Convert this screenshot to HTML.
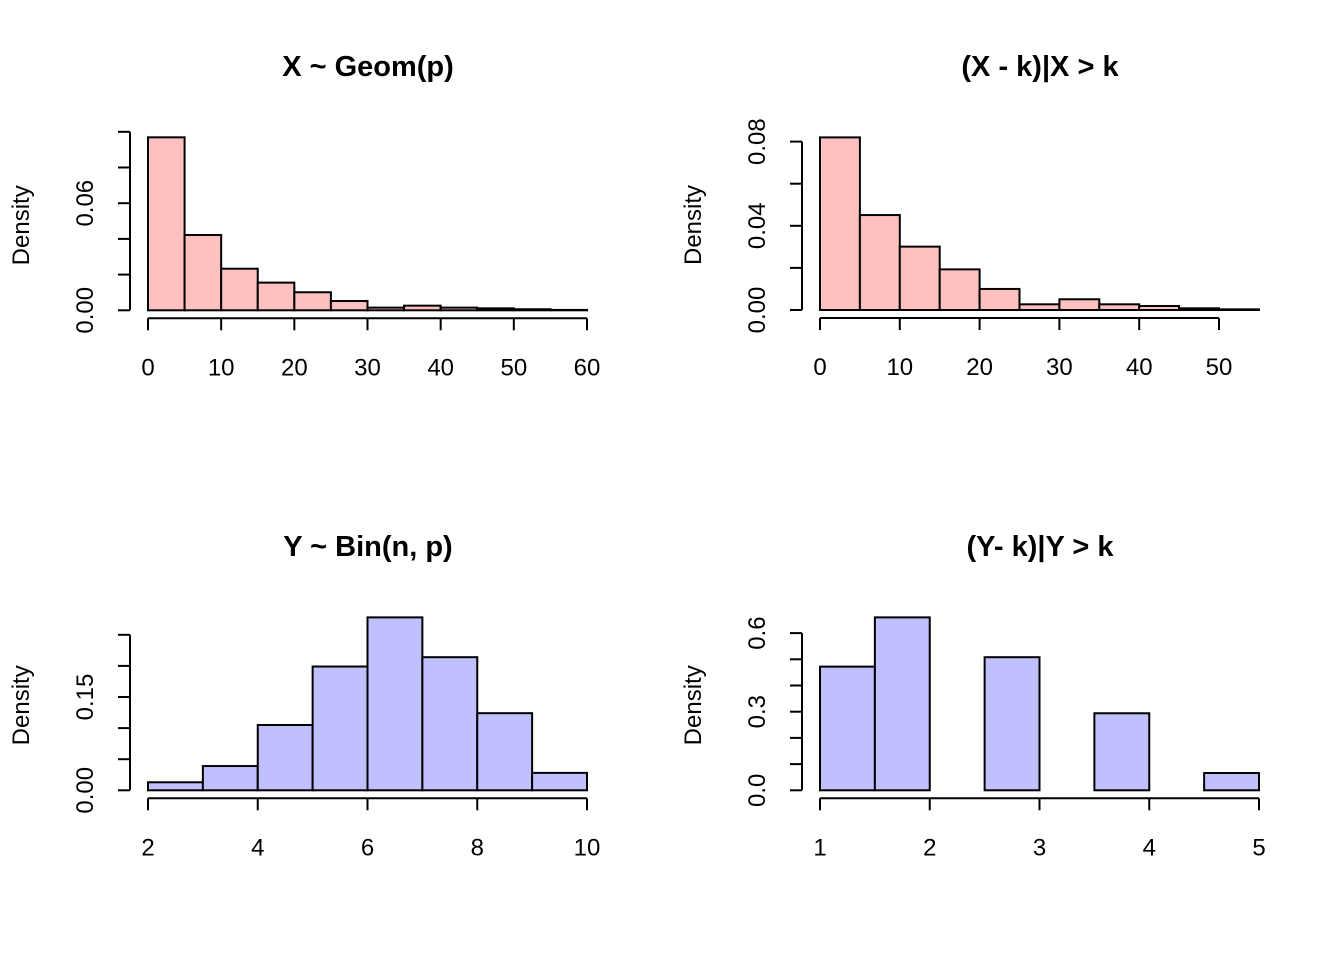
<!DOCTYPE html>
<html><head><meta charset="utf-8"><style>
html,body{margin:0;padding:0;background:#fff}
svg{display:block;font-family:"Liberation Sans",Arial,sans-serif}
</style></head><body>
<svg id="c" width="1344" height="960"></svg>
<script>
const geomBreaks=[0,5,10,15,20,25,30,35,40,45,50,55,60];
const geomDens=[0.0969,0.0422,0.0233,0.0155,0.0101,0.0052,0.0015,0.0026,0.0015,0.0011,0.0006,0.0002];
const geomCondBreaks=[0,5,10,15,20,25,30,35,40,45,50,55];
const geomCondDens=[0.082,0.0451,0.0301,0.0193,0.0100,0.0027,0.0051,0.0027,0.0019,0.0008,0.0003];
const binBreaks=[2,3,4,5,6,7,8,9,10];
const binDens=[0.0129,0.039,0.105,0.199,0.278,0.214,0.124,0.028];
const binCondBreaks=[1,1.5,2,2.5,3,3.5,4,4.5,5];
const binCondDens=[0.472,0.66,0,0.508,0,0.294,0,0.066];
const xTicks1=[0,10,20,30,40,50,60];
const yTicks1=[0,0.02,0.04,0.06,0.08,0.1];
const yLabels1=["0.00","","","0.06","",""];
const xTicks2=[0,10,20,30,40,50];
const yTicks2=[0,0.02,0.04,0.06,0.08];
const yLabels2=["0.00","","0.04","","0.08"];
const xTicks3=[2,4,6,8,10];
const yTicks3=[0,0.05,0.1,0.15,0.2,0.25];
const yLabels3=["0.00","","","0.15","",""];
const xTicks4=[1,2,3,4,5];
const yTicks4=[0,0.1,0.2,0.3,0.4,0.5,0.6];
const yLabels4=["0.0","","","0.3","","","0.6"];

const svg=document.getElementById('c');
const NS='http://www.w3.org/2000/svg';
function mk(tag,at,parent){const e=document.createElementNS(NS,tag);for(const k in at)e.setAttribute(k,at[k]);(parent||svg).appendChild(e);return e;}

function panel(o){
  const g=mk('g',{});
  
  
  const sx=v=>o.x0+(v-o.xmin)/(o.xmax-o.xmin)*(o.x1-o.x0);
  const sy=v=>o.y0-v*o.yScale;
  const t=mk('text',{x:(o.tx),y:o.ty,'text-anchor':'middle','font-size':'29','font-weight':'bold'},g);
  t.textContent=o.title;
  
  
  for(let i=0;i<o.dens.length;i++){
    const x=sx(o.breaks[i]),w=sx(o.breaks[i+1])-x,y=sy(o.dens[i]);
    const r=mk('rect',{x:x,y:y,width:w,height:o.y0-y,fill:o.fill,stroke:'#000','stroke-width':'2'},g);
    
    
  }
  const xa=mk('g',{},g);
  
  
  const xl=o.xTicks;
  mk('line',{x1:sx(xl[0]),x2:sx(xl[xl.length-1]),y1:o.y0+8,y2:o.y0+8,stroke:'#000','stroke-width':'2'},xa);
  xl.forEach(v=>{
    mk('line',{x1:sx(v),x2:sx(v),y1:o.y0+8,y2:o.y0+20,stroke:'#000','stroke-width':'2'},xa);
    const tl=mk('text',{x:sx(v),y:o.y0+65,'text-anchor':'middle','font-size':'24'},xa);
    tl.textContent=v;
  });
  const ya=mk('g',{},g);
  
  
  const yl=o.yTicks,ax=o.x0-18;
  mk('line',{x1:ax,x2:ax,y1:sy(yl[0]),y2:sy(yl[yl.length-1]),stroke:'#000','stroke-width':'2'},ya);
  yl.forEach((v,i)=>{
    mk('line',{x1:ax,x2:ax-12,y1:sy(v),y2:sy(v),stroke:'#000','stroke-width':'2'},ya);
    if(o.yLabels[i]){
      const tl=mk('text',{x:0,y:0,'text-anchor':'middle','font-size':'24',transform:`translate(${ax-37},${sy(v)}) rotate(-90)`},ya);
      tl.textContent=o.yLabels[i];
    }
  });
  const yt=mk('text',{x:0,y:0,'text-anchor':'middle','font-size':'24',transform:`translate(${o.x0-119},${o.y0-85}) rotate(-90)`},g);
  yt.textContent='Density';
  
  
}
panel({name:'panel-geom',title:'X ~ Geom(p)',tx:368,ty:76,breaks:geomBreaks,dens:geomDens,xmin:0,xmax:60,x0:148,x1:587,y0:310.3,yScale:1785,xTicks:xTicks1,yTicks:yTicks1,yLabels:yLabels1,fill:'#ffc0c0'});
panel({name:'panel-geom-conditional',title:'(X - k)|X > k',tx:1040,ty:76,breaks:geomCondBreaks,dens:geomCondDens,xmin:0,xmax:50,x0:820,x1:1219,y0:310,yScale:2105,xTicks:xTicks2,yTicks:yTicks2,yLabels:yLabels2,fill:'#ffc0c0'});
panel({name:'panel-binom',title:'Y ~ Bin(n, p)',tx:368,ty:556,breaks:binBreaks,dens:binDens,xmin:2,xmax:10,x0:148,x1:587,y0:790.3,yScale:622,xTicks:xTicks3,yTicks:yTicks3,yLabels:yLabels3,fill:'#c0c0ff'});
panel({name:'panel-binom-conditional',title:'(Y- k)|Y > k',tx:1040,ty:556,breaks:binCondBreaks,dens:binCondDens,xmin:1,xmax:5,x0:820,x1:1259,y0:790.3,yScale:262,xTicks:xTicks4,yTicks:yTicks4,yLabels:yLabels4,fill:'#c0c0ff'});
</script>
</body></html>
